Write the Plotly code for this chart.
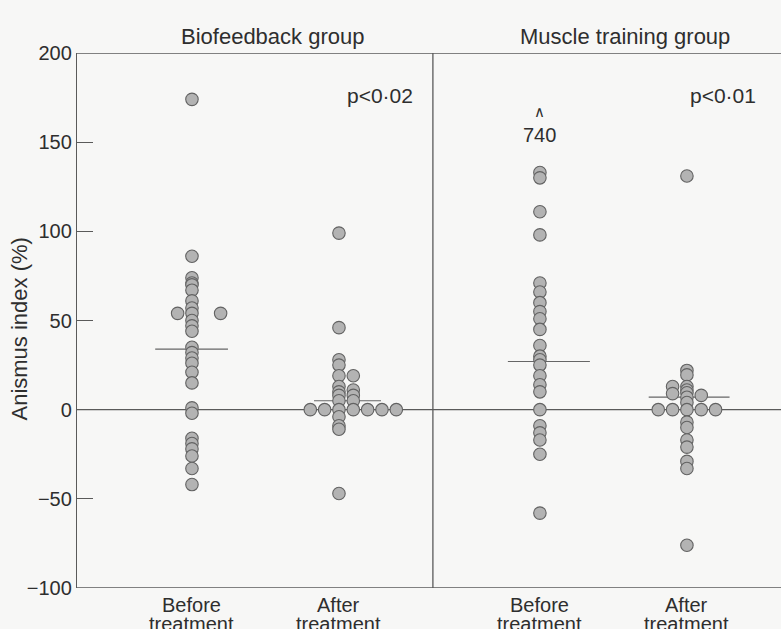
import plotly.graph_objects as go

# ---------------- data ----------------
group_names = ["Biofeedback group", "Muscle training group"]
cat_labels = ["Before", "After", "Before", "After"]
cat_pos = [1.0, 2.0, 3.367, 4.367]

# values; slot = horizontal stacking column of the dot
bf_before_vals = [174, 86, 74, 71, 70, 67, 61, 57, 54, 54, 54, 50, 47, 44, 35, 32,
                  29, 26, 21, 15, 1, -2, -16, -19, -22, -26, -33, -42]
bf_before_slot = [0, 0, 0, 0, 0, 0, 0, 0, 0, -1, 2, 0, 0, 0, 0, 0,
                  0, 0, 0, 0, 0, 0, 0, 0, 0, 0, 0, 0]

bf_after_vals = [99, 46, 28, 25, 19, 13, 10, 8, 5, 0, -4, -9, -11, -47,
                 19, 11, 8, 5, 0, 0, 0, 0, 0, 0]
bf_after_slot = [0, 0, 0, 0, 0, 0, 0, 0, 0, 0, 0, 0, 0, 0,
                 1, 1, 1, 1, -2, -1, 1, 2, 3, 4]

mt_before_vals = [133, 130, 111, 98, 71, 66, 60, 55, 51, 45, 36, 30, 28, 25, 19,
                  14, 10, 0, -9, -13, -17, -25, -58]
mt_before_slot = [0] * len(mt_before_vals)

mt_after_vals = [131, 22, 19.5, 13, 11, 9.5, 7, 4, 0, -7, -10, -17, -21, -29, -33, -76,
                 13, 9, 8, 0, 0, 0, 0]
mt_after_slot = [0, 0, 0, 0, 0, 0, 0, 0, 0, 0, 0, 0, 0, 0, 0, 0,
                 -1, -1, 1, -2, -1, 1, 2]

medians = [34, 5, 27, 7]
median_lo = [-0.25, -0.17, -0.218, -0.26]
median_hi = [0.245, 0.286, 0.34, 0.29]

p_values = ["p<0·02", "p<0·01"]
offscale_value = "740"

y_ticks = [-100, -50, 0, 50, 100, 150, 200]
y_ticktext = ["−100", "−50", "0", "50", "100", "150", "200"]

# ---------------- style ----------------
FONT = "Liberation Sans, Arial, Helvetica, sans-serif"
TXT = "#2e2e2e"
LINE = "#5a5a5a"
BG = "#f7f7f6"
STEP = 0.0975          # horizontal dot spacing in x units
X_RANGE = [0.218, 5.007]

fig = go.Figure()

groups = [(bf_before_vals, bf_before_slot), (bf_after_vals, bf_after_slot),
          (mt_before_vals, mt_before_slot), (mt_after_vals, mt_after_slot)]

# median lines
for i, m in enumerate(medians):
    fig.add_trace(go.Scatter(
        x=[cat_pos[i] + median_lo[i], cat_pos[i] + median_hi[i]], y=[m, m],
        mode="lines", line=dict(color="#666666", width=1.2),
        showlegend=False, hoverinfo="skip"))

for i, (vals, slots) in enumerate(groups):
    fig.add_trace(go.Scatter(
        x=[cat_pos[i] + s * STEP for s in slots], y=vals,
        mode="markers",
        marker=dict(size=12.5, color="#b3b3b3",
                    line=dict(color="#626262", width=1.1)),
        showlegend=False, hoverinfo="y"))

divider_x = 2.639

shapes = [
    dict(type="line", xref="paper", yref="y", x0=0, x1=1, y0=0, y1=0,
         line=dict(color=LINE, width=1.3), layer="below"),
    dict(type="line", xref="paper", yref="y", x0=0, x1=1, y0=200, y1=200,
         line=dict(color=LINE, width=1.3), layer="below"),
    dict(type="line", xref="paper", yref="y", x0=0, x1=1, y0=-100, y1=-100,
         line=dict(color=LINE, width=1.3), layer="below"),
    dict(type="line", xref="x", yref="y", x0=divider_x, x1=divider_x, y0=-100, y1=200,
         line=dict(color=LINE, width=1.3), layer="below"),
]

annotations = [
    dict(text=group_names[0], x=1.551, y=1.058, xref="x", yref="paper",
         showarrow=False, font=dict(size=22, color=TXT, family=FONT)),
    dict(text=group_names[1], x=3.946, y=1.058, xref="x", yref="paper",
         showarrow=False, font=dict(size=22, color=TXT, family=FONT)),
    dict(text=p_values[0], x=2.041, y=176, xref="x", yref="y", xanchor="left",
         showarrow=False, font=dict(size=21, color=TXT, family=FONT)),
    dict(text=p_values[1], x=4.374, y=176, xref="x", yref="y", xanchor="left",
         showarrow=False, font=dict(size=21, color=TXT, family=FONT)),
    dict(text="∧", x=cat_pos[2], y=167, xref="x", yref="y",
         showarrow=False, font=dict(size=15, color=TXT, family="DejaVu Sans")),
    dict(text=offscale_value, x=cat_pos[2], y=154, xref="x", yref="y",
         showarrow=False, font=dict(size=20, color=TXT, family=FONT)),
    dict(text="Anismus index (%)", x=-0.081, y=0.485, xref="paper", yref="paper",
         xanchor="center", yanchor="middle",
         textangle=-90, showarrow=False,
         font=dict(size=22, color=TXT, family=FONT)),
]
for i, lab in enumerate(cat_labels):
    annotations.append(dict(text=lab, x=cat_pos[i], y=-0.008, xref="x", yref="paper",
                            yanchor="top", showarrow=False,
                            font=dict(size=20, color=TXT, family=FONT)))
    annotations.append(dict(text="treatment", x=cat_pos[i], y=-0.043, xref="x",
                            yref="paper", yanchor="top", showarrow=False,
                            font=dict(size=20, color=TXT, family=FONT)))

fig.update_layout(
    width=781, height=629,
    margin=dict(l=77, r=0, t=53, b=41),
    paper_bgcolor=BG, plot_bgcolor=BG,
    xaxis=dict(range=X_RANGE, showticklabels=False, ticks="", showline=False,
               showgrid=False, zeroline=False),
    yaxis=dict(range=[-100, 200], tickvals=y_ticks, ticktext=y_ticktext,
               ticks="inside", ticklen=16, tickwidth=1.3, tickcolor=LINE,
               showline=True, linecolor=LINE, linewidth=1.3,
               showgrid=False, zeroline=False,
               tickfont=dict(size=20, color=TXT, family=FONT)),
    shapes=shapes, annotations=annotations,
    showlegend=False,
)

fig.write_html("out.html", config={"displayModeBar": False},
               post_script="document.body.style.margin='0';document.body.style.overflow='hidden';")
